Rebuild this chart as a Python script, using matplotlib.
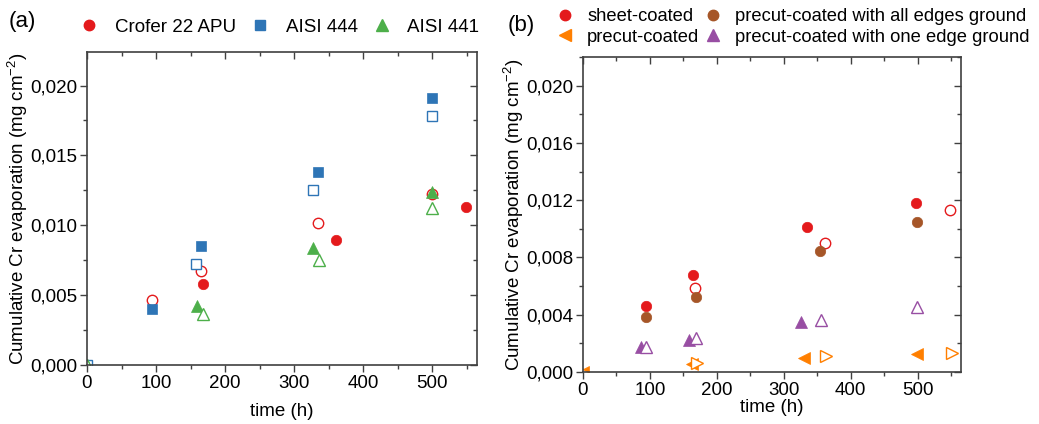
import numpy as np
import matplotlib
matplotlib.use("Agg")
import matplotlib.pyplot as plt
from matplotlib import ticker
from matplotlib.lines import Line2D

plt.rcParams["font.family"] = ["Liberation Sans", "DejaVu Sans"]
plt.rcParams["mathtext.default"] = "regular"

# ---- panel (a) data: filled = run 1, open = run 2 ----
crofer_t = [0, 168, 361, 549]
crofer_y = [0, 0.00577, 0.00893, 0.01130]
crofer2_t = [94, 165, 334, 500]
crofer2_y = [0.00462, 0.00673, 0.01013, 0.01226]

aisi444_t = [0, 94, 165, 335, 500]
aisi444_y = [0, 0.00402, 0.00850, 0.01384, 0.01911]
aisi444b_t = [0, 158, 327, 500]
aisi444b_y = [0, 0.00726, 0.01250, 0.01780]

aisi441_t = [0, 159, 328, 500]
aisi441_y = [0, 0.00419, 0.00836, 0.01238]
aisi441b_t = [0, 168, 336, 500]
aisi441b_y = [0, 0.00366, 0.00754, 0.01123]

# ---- panel (b) data ----
sheet_t = [94, 165, 335, 497]
sheet_y = [0.00463, 0.00680, 0.01016, 0.01180]
sheet2_t = [167, 361, 549]
sheet2_y = [0.00584, 0.00899, 0.01133]

alledge_t = [94, 169, 354, 499]
alledge_y = [0.00381, 0.00526, 0.00848, 0.01049]

oneedge_t = [87, 159, 326]
oneedge_y = [0.00178, 0.00224, 0.00346]
oneedge2_t = [94, 169, 355, 499]
oneedge2_y = [0.00175, 0.00234, 0.00360, 0.00453]

precut_t = [0, 163, 331, 499]
precut_y = [0, 0.00054, 0.00100, 0.00128]
precut2_t = [0, 171, 363, 551]
precut2_y = [0, 0.00065, 0.00110, 0.00135]

red = "#E41A1C"
blue = "#2E75B6"
green = "#4DAF4A"
orange = "#FF7F00"
purple = "#984EA3"
brown = "#A65628"
spine = "#404040"

fs = 13.5
ylab = "Cumulative Cr evaporation (mg cm$^{-2}$)"


def comma(v, pos):
    return "{:.3f}".format(v).replace(".", ",")


def style_axes(ax, ymajor, yminor, ymax, xpad, ypad):
    ax.set_xlim(0, 565)
    ax.set_ylim(0, ymax)
    ax.xaxis.set_major_locator(ticker.MultipleLocator(100))
    ax.xaxis.set_minor_locator(ticker.MultipleLocator(50))
    ax.yaxis.set_major_locator(ticker.MultipleLocator(ymajor))
    ax.yaxis.set_minor_locator(ticker.MultipleLocator(yminor))
    ax.yaxis.set_major_formatter(ticker.FuncFormatter(comma))
    ax.tick_params(axis="both", which="both", direction="out", colors=spine,
                   labelcolor="black", labelsize=fs, width=1, pad=2)
    ax.tick_params(which="major", length=5)
    ax.tick_params(which="minor", length=3)
    for s in ax.spines.values():
        s.set_color(spine)
        s.set_linewidth(1.2)
    top = ax.secondary_xaxis("top")
    top.xaxis.set_major_locator(ticker.MultipleLocator(100))
    top.xaxis.set_minor_locator(ticker.MultipleLocator(50))
    top.tick_params(axis="x", which="both", direction="in", labeltop=False,
                    colors=spine, width=1)
    top.tick_params(which="major", length=5)
    top.tick_params(which="minor", length=3)
    top.spines["top"].set_visible(False)
    right = ax.secondary_yaxis("right")
    right.yaxis.set_major_locator(ticker.MultipleLocator(ymajor))
    right.yaxis.set_minor_locator(ticker.MultipleLocator(yminor))
    right.tick_params(axis="y", which="both", direction="in", labelright=False,
                      colors=spine, width=1)
    right.tick_params(which="major", length=5)
    right.tick_params(which="minor", length=3)
    right.spines["right"].set_visible(False)
    ax.set_xlabel("time (h)", fontsize=fs, labelpad=xpad)
    ax.set_ylabel(ylab, fontsize=fs, labelpad=ypad)


def filled(ax, t, y, m, c, ms):
    ax.plot(t, y, linestyle="", marker=m, markersize=ms, color=c,
            markeredgecolor=c, markeredgewidth=0.5)


def hollow(ax, t, y, m, c, ms):
    ax.plot(t, y, linestyle="", marker=m, markersize=ms, markerfacecolor="white",
            markeredgecolor=c, markeredgewidth=1.0, color=c)


fig = plt.figure(figsize=(10.39, 4.24), dpi=100)
axa = fig.add_axes([87/1039, 1-365/424, (477-87)/1039, (365-52)/424])
axb = fig.add_axes([583/1039, 1-372/424, (961-583)/1039, (372-57)/424])

# panel (a)
filled(axa, crofer_t, crofer_y, "o", red, 7.5)
hollow(axa, crofer2_t, crofer2_y, "o", red, 7.5)
filled(axa, aisi444_t, aisi444_y, "s", blue, 6.5)
hollow(axa, aisi444b_t, aisi444b_y, "s", blue, 6.5)
filled(axa, aisi441_t, aisi441_y, "^", green, 8)
hollow(axa, aisi441b_t, aisi441b_y, "^", green, 8)
style_axes(axa, 0.005, 0.0025, 0.0224, 8, 0)

# panel (b)
filled(axb, sheet_t, sheet_y, "o", red, 7.5)
hollow(axb, sheet2_t, sheet2_y, "o", red, 7.5)
filled(axb, alledge_t, alledge_y, "o", brown, 7.5)
filled(axb, oneedge_t, oneedge_y, "^", purple, 8)
hollow(axb, oneedge2_t, oneedge2_y, "^", purple, 8)
filled(axb, precut_t, precut_y, "<", orange, 8)
hollow(axb, precut2_t, precut2_y, ">", orange, 8)
style_axes(axb, 0.004, 0.002, 0.0220, 0, 0)

# legends
ha = [Line2D([], [], linestyle="", marker="o", markersize=7.5, color=red),
      Line2D([], [], linestyle="", marker="s", markersize=6.5, color=blue),
      Line2D([], [], linestyle="", marker="^", markersize=8, color=green)]
fig.legend(ha, ["Crofer 22 APU", "AISI 444", "AISI 441"], loc="center left",
           bbox_to_anchor=(80/1039, 1-27/424), ncol=3, frameon=False,
           fontsize=fs, handlelength=1.0, handletextpad=0.85, columnspacing=0.8,
           borderpad=0, borderaxespad=0)

fsb = 13.2
hb = [Line2D([], [], linestyle="", marker="o", markersize=7.5, color=red),
      Line2D([], [], linestyle="", marker="<", markersize=8, color=orange),
      Line2D([], [], linestyle="", marker="o", markersize=7.5, color=brown),
      Line2D([], [], linestyle="", marker="^", markersize=8, color=purple)]
fig.legend(hb, ["sheet-coated", "precut-coated",
                "precut-coated with all edges ground",
                "precut-coated with one edge ground"],
           loc="center left", bbox_to_anchor=(556/1039, 1-27/424), ncol=2,
           frameon=False, fontsize=fsb, handlelength=1.0, handletextpad=0.7,
           columnspacing=0.25, labelspacing=0.2, borderpad=0, borderaxespad=0)

fig.text(9/1039, 1-21/424, "(a)", fontsize=16, va="center", ha="left")
fig.text(508/1039, 1-26/424, "(b)", fontsize=16, va="center", ha="left")

fig.savefig("out.png", dpi=100)
